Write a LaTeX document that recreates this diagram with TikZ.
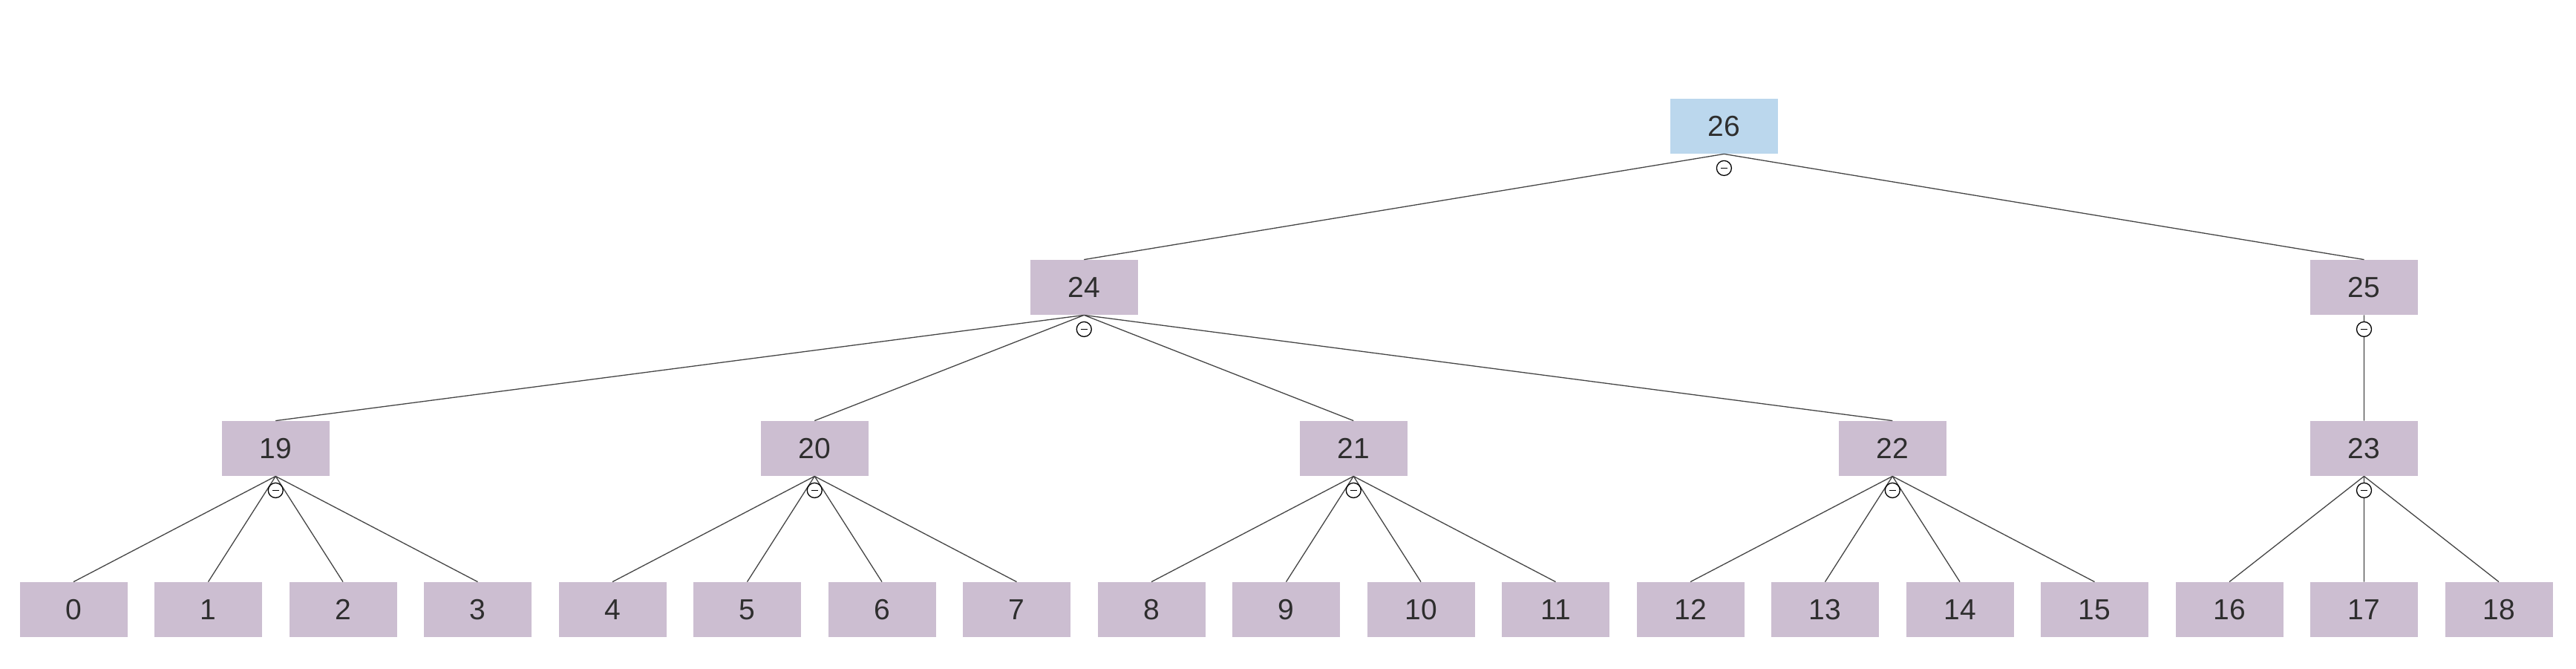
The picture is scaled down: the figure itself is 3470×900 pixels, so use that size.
\documentclass[tikz,border=0pt]{standalone}
\usepackage{fontspec}
\setmainfont{Liberation Sans}
\usetikzlibrary{positioning}
\definecolor{boxfill}{HTML}{CCBED1}
\definecolor{rootfill}{HTML}{BBD7ED}
\definecolor{edgegray}{HTML}{454545}
\definecolor{labelgray}{HTML}{2E2E2E}
\tikzset{
  treebox/.style={rectangle, fill=boxfill, minimum width=72.5pt,
    minimum height=37pt, inner sep=0pt, text=labelgray,
    font=\fontsize{19.5}{23}\selectfont},
  rootbox/.style={treebox, fill=rootfill},
  minusmark/.style={circle, draw=black, fill=white, line width=0.65pt,
    minimum size=10pt, inner sep=0pt,
    path picture={\draw[line width=0.8pt]
      ([xshift=-2.3pt]path picture bounding box.center) --
      ([xshift=2.3pt]path picture bounding box.center);}}
}

\begin{document}
\begin{tikzpicture}[x=0.5pt, y=-0.5pt,
      node distance=90.75pt,
      on grid]

    \useasboundingbox (0,0) rectangle (3470,900);

    % leaves
    \node[treebox] (n0) at (99,821) {0};
    \node[treebox] (n1) [right=of n0] {1};
    \node[treebox] (n2) [right=of n1] {2};
    \node[treebox] (n3) [right=of n2] {3};
    \node[treebox] (n4) [right=of n3] {4};
    \node[treebox] (n5) [right=of n4] {5};
    \node[treebox] (n6) [right=of n5] {6};
    \node[treebox] (n7) [right=of n6] {7};
    \node[treebox] (n8) [right=of n7] {8};
    \node[treebox] (n9) [right=of n8] {9};
    \node[treebox] (n10) [right=of n9] {10};
    \node[treebox] (n11) [right=of n10] {11};
    \node[treebox] (n12) [right=of n11] {12};
    \node[treebox] (n13) [right=of n12] {13};
    \node[treebox] (n14) [right=of n13] {14};
    \node[treebox] (n15) [right=of n14] {15};
    \node[treebox] (n16) [right=of n15] {16};
    \node[treebox] (n17) [right=of n16] {17};
    \node[treebox] (n18) [right=of n17] {18};

    % inner levels
    \node[treebox] (n19) [above right=108.5pt and 45.375pt of n1] {19};
    \node[treebox] (n20) [above right=108.5pt and 45.375pt of n5] {20};
    \node[treebox] (n21) [above right=108.5pt and 45.375pt of n9] {21};
    \node[treebox] (n22) [above right=108.5pt and 45.375pt of n13] {22};
    \node[treebox] (n23) [above=108.5pt of n17] {23};
    \node[treebox] (n24) [above right=108.5pt and 181.5pt of n20] {24};
    \node[treebox] (n25) [above=108.5pt of n23] {25};
    \node[rootbox] (n26) [above right=108.5pt and 431.06pt of n24] {26};

    \draw[edgegray, line width=0.65pt]
      (n26.south) -- (n24.north)
      (n26.south) -- (n25.north)
      (n24.south) -- (n19.north)
      (n24.south) -- (n20.north)
      (n24.south) -- (n21.north)
      (n24.south) -- (n22.north)
      (n25.south) -- (n23.north)
      (n19.south) -- (n0.north)
      (n19.south) -- (n1.north)
      (n19.south) -- (n2.north)
      (n19.south) -- (n3.north)
      (n20.south) -- (n4.north)
      (n20.south) -- (n5.north)
      (n20.south) -- (n6.north)
      (n20.south) -- (n7.north)
      (n21.south) -- (n8.north)
      (n21.south) -- (n9.north)
      (n21.south) -- (n10.north)
      (n21.south) -- (n11.north)
      (n22.south) -- (n12.north)
      (n22.south) -- (n13.north)
      (n22.south) -- (n14.north)
      (n22.south) -- (n15.north)
      (n23.south) -- (n16.north)
      (n23.south) -- (n17.north)
      (n23.south) -- (n18.north);

    % minus marks under each parent
    \node[minusmark] (m26) at ([yshift=-9.5pt]n26.south) {};
    \node[minusmark] (m24) at ([yshift=-9.5pt]n24.south) {};
    \node[minusmark] (m25) at ([yshift=-9.5pt]n25.south) {};
    \node[minusmark] (m19) at ([yshift=-9.5pt]n19.south) {};
    \node[minusmark] (m20) at ([yshift=-9.5pt]n20.south) {};
    \node[minusmark] (m21) at ([yshift=-9.5pt]n21.south) {};
    \node[minusmark] (m22) at ([yshift=-9.5pt]n22.south) {};
    \node[minusmark] (m23) at ([yshift=-9.5pt]n23.south) {};

  \end{tikzpicture}
\end{document}
